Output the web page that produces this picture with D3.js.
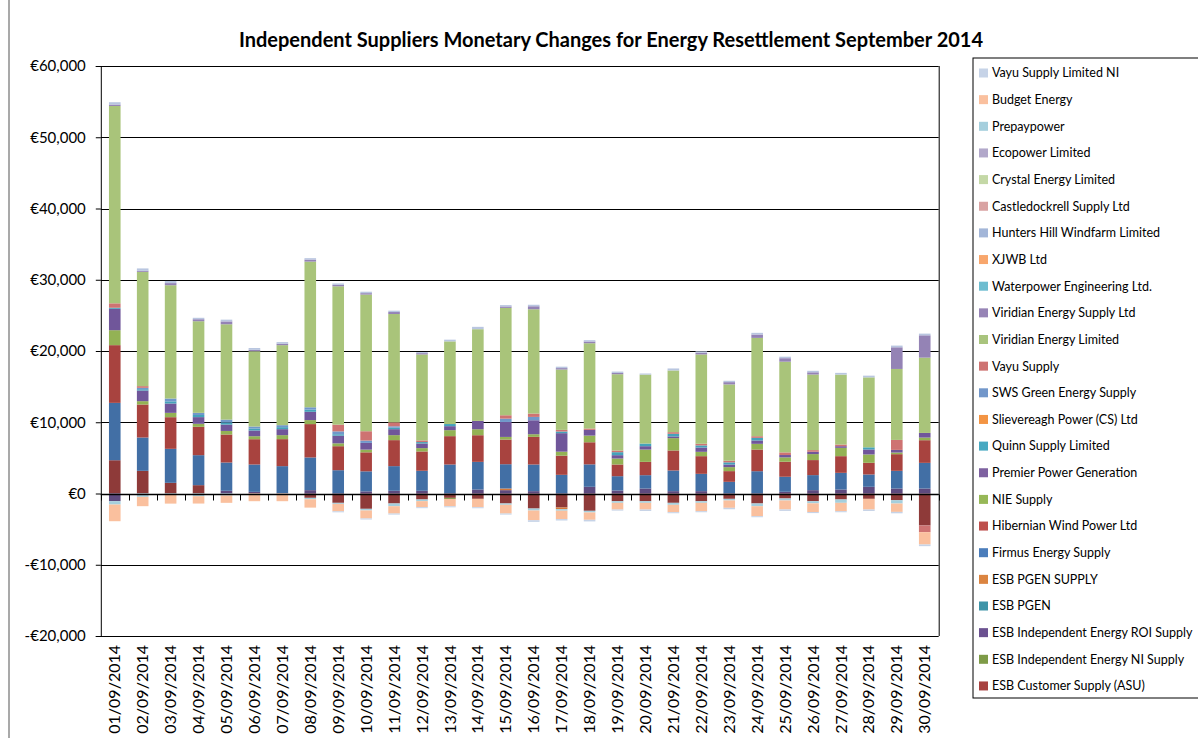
<!DOCTYPE html>
<html><head><meta charset="utf-8">
<script src="https://cdn.jsdelivr.net/npm/d3@7"></script>
<style>body{margin:0;background:#fff} text{font-family:Lato,'Open Sans',sans-serif;fill:#000}</style>
</head><body>
<svg id="chart" width="1198" height="738"></svg>
<script>
const dates = ["01/09/2014","02/09/2014","03/09/2014","04/09/2014","05/09/2014","06/09/2014","07/09/2014","08/09/2014","09/09/2014","10/09/2014","11/09/2014","12/09/2014","13/09/2014","14/09/2014","15/09/2014","16/09/2014","17/09/2014","18/09/2014","19/09/2014","20/09/2014","21/09/2014","22/09/2014","23/09/2014","24/09/2014","25/09/2014","26/09/2014","27/09/2014","28/09/2014","29/09/2014","30/09/2014"];
const yTicks = [-20000,-10000,0,10000,20000,30000,40000,50000,60000];

// series, bottom of the stack first
const esbCustomerSupply = [4670,3180,1500,1170,0,0,0,-610,-1310,-2150,-1400,-840,-610,-750,-1400,-2110,-1960,-2430,-1080,-1080,-1310,-1080,-750,-1400,-700,-1080,-840,-750,-940,-4490];
const esbIndepNI = [0,0,0,0,0,0,0,0,0,0,0,0,-150,0,0,0,0,0,0,0,0,0,0,0,0,0,0,0,0,0];
const esbIndepROI = [-1080,0,0,0,380,230,0,470,0,300,380,380,0,560,470,330,0,940,420,700,330,330,0,0,240,470,560,940,700,700];
const esbPgen = [0,0,0,0,0,0,0,0,0,0,0,0,0,0,0,0,0,0,0,0,0,0,0,0,0,0,0,0,0,0];
const esbPgenSupply = [0,0,0,0,0,0,0,0,0,0,0,0,0,0,230,0,-230,0,0,0,0,0,0,0,0,0,0,0,0,0];
const firmus = [8050,4680,4770,4210,3970,3840,3840,4590,3270,2810,3460,2810,4070,3880,3410,3740,2620,3150,2010,1870,2900,2430,1640,3130,2110,2110,2340,1730,2480,3600];
const hibernian = [8100,4630,4440,3980,3930,3550,3790,4680,3370,2670,3650,2710,3980,3740,3460,3880,2690,3100,1640,1870,2810,2480,1500,3040,2110,2110,2340,1640,2340,3180];
const nieSupply = [2100,470,610,420,500,420,560,560,400,380,700,470,840,840,370,370,560,940,840,1730,1730,610,560,800,610,840,1170,1170,230,370];
const premierPower = [3000,1490,1310,940,890,800,840,1170,1080,940,840,650,560,1170,2100,1960,2600,800,470,470,240,600,370,470,330,330,230,700,370,650];
const quinnSupply = [150,190,300,300,300,280,280,300,200,0,200,200,300,0,0,0,230,0,420,370,370,300,300,370,0,0,0,300,0,0];
const slievereagh = [0,0,0,0,0,0,0,0,0,0,0,0,0,0,0,0,0,0,0,0,0,0,0,0,0,0,0,0,0,0];
const swsGreen = [0,190,400,300,400,280,280,330,400,330,200,0,0,0,470,470,0,0,0,0,0,0,0,0,0,0,0,0,0,0];
const vayuSupply = [620,240,0,0,0,0,0,0,940,1310,560,230,0,0,470,470,230,190,230,0,230,230,230,230,370,230,230,0,1400,-940];
const viridianLimited = [27700,16040,15900,12860,13380,10570,11230,20450,19420,19180,15200,12070,11600,12870,15070,14640,8470,11970,10710,9680,8660,12540,10710,13800,12730,10610,9820,9820,9960,10570];
const viridianSupply = [200,150,300,280,400,200,200,280,200,200,280,180,0,0,200,420,200,240,180,0,0,240,320,470,490,310,0,0,3040,3130];
const waterpower = [0,0,0,0,0,0,0,0,0,0,0,0,0,0,0,0,0,0,0,0,0,0,0,0,0,0,0,0,0,0];
const xjwb = [0,0,0,0,0,0,0,0,0,0,0,0,0,0,0,0,0,0,0,0,0,0,0,0,0,0,0,0,0,0];
const huntersHill = [330,330,300,200,250,250,230,200,200,200,190,150,240,330,190,210,200,190,190,150,280,190,190,240,210,210,240,240,240,240];
const castledockrell = [0,0,0,0,0,0,0,0,0,0,0,0,0,0,0,0,0,0,0,0,0,0,0,0,0,0,0,0,0,0];
const crystalEnergy = [0,0,0,0,0,0,0,0,0,0,0,0,0,0,0,0,0,0,0,0,0,0,0,0,0,0,0,0,0,0];
const ecopower = [0,0,0,0,0,0,0,0,0,0,0,0,0,0,0,0,0,0,0,0,0,0,0,0,0,0,0,0,0,0];
const prepaypower = [-470,-470,-200,-380,-280,0,0,-200,-150,-230,-380,-230,0,0,-190,-280,-230,-230,-230,-230,-280,-230,-230,-380,-280,-300,-470,0,-470,0];
const budgetEnergy = [-2340,-1310,-1220,-1030,-1030,-1080,-1080,-1170,-1030,-1120,-1030,-840,-1030,-1170,-1220,-1360,-1170,-1030,-940,-940,-1030,-1170,-1030,-1400,-1260,-1220,-1170,-1500,-1170,-1730];
const vayuSupplyNI = [0,0,0,0,0,0,0,0,-150,-150,-150,-150,-150,-150,-150,-230,-200,-230,-150,-200,-150,-150,-200,-150,-200,-150,-150,-200,-200,-230];

const seriesNames = ["ESB Customer Supply (ASU)","ESB Independent Energy NI Supply","ESB Independent Energy ROI Supply","ESB PGEN","ESB PGEN SUPPLY","Firmus Energy Supply","Hibernian Wind Power Ltd","NIE Supply","Premier Power Generation","Quinn Supply Limited","Slievereagh Power (CS) Ltd","SWS Green Energy Supply","Vayu Supply","Viridian Energy Limited","Viridian Energy Supply Ltd","Waterpower Engineering Ltd.","XJWB Ltd","Hunters Hill Windfarm Limited","Castledockrell Supply Ltd","Crystal Energy Limited","Ecopower Limited","Prepaypower","Budget Energy","Vayu Supply Limited NI"];
const seriesValues = [esbCustomerSupply,esbIndepNI,esbIndepROI,esbPgen,esbPgenSupply,firmus,hibernian,nieSupply,premierPower,quinnSupply,slievereagh,swsGreen,vayuSupply,viridianLimited,viridianSupply,waterpower,xjwb,huntersHill,castledockrell,crystalEnergy,ecopower,prepaypower,budgetEnergy,vayuSupplyNI];

// styles
const legendColors = ["#A84240","#7E9B47","#6B5190","#3E94A8","#DB8440","#4B7DBB","#BE4F4C","#97B857","#7E61A0","#48A9C2","#F39443","#7297CA","#CE7372","#A9C47D","#9784B6","#6EBDD0","#F8A66C","#A3B6D8","#D9A3A3","#C4D8A6","#B2A8CA","#A5CFDD","#FAC09E","#C6D3E7"];
const barColors = ["#8E3A39","#77933C","#5E4A7E","#3A8799","#D6793A","#426FA5","#A8433F","#93B254","#70569A","#44A2BA","#F08E3E","#7097CA","#CE7372","#A9C47A","#9483B5","#6EBDD0","#F8A66C","#B9C6E0","#D9A3A3","#C4D8A6","#B2A8CA","#A5CFDD","#FAC09E","#C6D3E7"];

const svg = d3.select("#chart");
const plotLeft = 100.8, plotRight = 938.7, plotTop = 66, plotBottom = 636;

const table = dates.map((d,i) => {
  const row = {date:d};
  seriesNames.forEach((s,k) => row[s] = seriesValues[k][i]);
  return row;
});

const x = d3.scaleBand().domain(dates).range([plotLeft,plotRight]).paddingInner(0).paddingOuter(0);
const y = d3.scaleLinear().domain([-20000,60000]).range([plotBottom,plotTop]);

// left chart-area edge
svg.append("line").attr("x1",9).attr("x2",9).attr("y1",0).attr("y2",738).attr("stroke","#8c8c8c").attr("stroke-width",1.5);

// title
svg.append("text").attr("x",611).attr("y",47).attr("text-anchor","middle")
  .attr("font-size",20).attr("font-weight","bold")
  .text("Independent Suppliers Monetary Changes for Energy Resettlement September 2014");

// gridlines
svg.append("g").selectAll("line").data(yTicks).join("line")
  .attr("x1",plotLeft).attr("x2",plotRight).attr("y1",d=>Math.round(y(d))+0.5).attr("y2",d=>Math.round(y(d))+0.5)
  .attr("stroke","#000").attr("stroke-width",1);

// stacked bars
const stack = d3.stack().keys(seriesNames).offset(d3.stackOffsetDiverging).order(d3.stackOrderNone);
const layers = stack(table);
const bw = 11.6;
svg.append("g").selectAll("g").data(layers).join("g")
  .attr("fill",(d,i)=>barColors[i])
  .selectAll("rect").data(d=>d).join("rect")
  .attr("x",d=>x(d.data.date)+x.bandwidth()/2-bw/2)
  .attr("width",bw)
  .attr("y",d=>y(Math.max(d[0],d[1])))
  .attr("height",d=>Math.abs(y(d[0])-y(d[1])));

// plot frame
svg.append("line").attr("x1",plotRight+0.5).attr("x2",plotRight+0.5).attr("y1",plotTop).attr("y2",plotBottom).attr("stroke","#000");

// y axis
const yAxis = d3.axisLeft(y).tickValues(yTicks).tickSize(5).tickPadding(10)
  .tickFormat(v => (v<0?"-":"") + "€" + d3.format(",")(Math.abs(v)));
const ya = svg.append("g").attr("transform",`translate(${plotLeft},0)`).call(yAxis);
ya.select(".domain").attr("stroke","#000");
ya.selectAll("text").attr("font-size",15).attr("font-family","Lato,'Open Sans',sans-serif").attr("fill","#000");

// x axis at zero
const y0 = Math.round(y(0))+0.5;
svg.append("line").attr("x1",plotLeft).attr("x2",plotRight).attr("y1",y0).attr("y2",y0).attr("stroke","#000").attr("stroke-width",1.5);
const bounds = dates.map(d=>x(d)).concat([plotRight]);
svg.append("g").selectAll("line").data(bounds).join("line")
  .attr("x1",d=>Math.round(d)+0.5).attr("x2",d=>Math.round(d)+0.5).attr("y1",y0).attr("y2",y0+6)
  .attr("stroke","#000");

// x labels
svg.append("g").selectAll("text").data(dates).join("text")
  .attr("transform",d=>`translate(${x(d)+x.bandwidth()/2},645) rotate(-90)`)
  .attr("text-anchor","end").attr("dy","0.35em").attr("font-size",16)
  .text(d=>d);

// legend
const lg = svg.append("g");
lg.append("rect").attr("x",973).attr("y",58).attr("width",240).attr("height",640)
  .attr("fill","#fff").attr("stroke","#000").attr("stroke-width",1);
const legendOrder = d3.range(seriesNames.length).reverse();
const items = lg.selectAll("g.item").data(legendOrder).join("g")
  .attr("transform",(k,i)=>`translate(979,${73+i*26.65})`);
items.append("rect").attr("x",0).attr("y",-4.5).attr("width",9).attr("height",9).attr("fill",k=>legendColors[k]);
items.append("text").attr("x",13).attr("dy","0.35em").attr("font-size",12.5).text(k=>seriesNames[k]);
</script>
</body></html>
